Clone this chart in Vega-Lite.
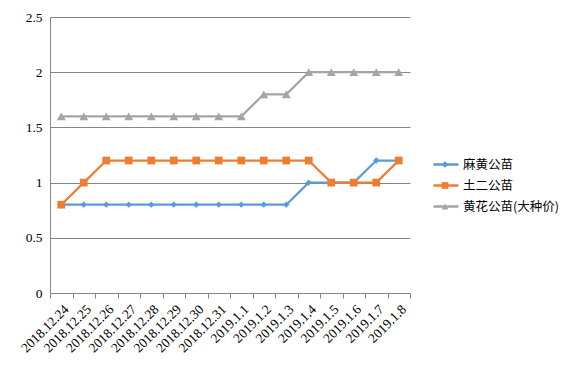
{
  "$schema": "https://vega.github.io/schema/vega-lite/v6.json",
  "autosize": "none",
  "width": 360,
  "height": 276,
  "padding": {"left": 50, "top": 17, "right": 173, "bottom": 77},
  "background": "white",
  "config": {"view": {"stroke": null}},
  "data": {
    "values": [
      {"date": "2018.12.24", "series": "麻黄公苗", "value": 0.8},
      {"date": "2018.12.25", "series": "麻黄公苗", "value": 0.8},
      {"date": "2018.12.26", "series": "麻黄公苗", "value": 0.8},
      {"date": "2018.12.27", "series": "麻黄公苗", "value": 0.8},
      {"date": "2018.12.28", "series": "麻黄公苗", "value": 0.8},
      {"date": "2018.12.29", "series": "麻黄公苗", "value": 0.8},
      {"date": "2018.12.30", "series": "麻黄公苗", "value": 0.8},
      {"date": "2018.12.31", "series": "麻黄公苗", "value": 0.8},
      {"date": "2019.1.1", "series": "麻黄公苗", "value": 0.8},
      {"date": "2019.1.2", "series": "麻黄公苗", "value": 0.8},
      {"date": "2019.1.3", "series": "麻黄公苗", "value": 0.8},
      {"date": "2019.1.4", "series": "麻黄公苗", "value": 1.0},
      {"date": "2019.1.5", "series": "麻黄公苗", "value": 1.0},
      {"date": "2019.1.6", "series": "麻黄公苗", "value": 1.0},
      {"date": "2019.1.7", "series": "麻黄公苗", "value": 1.2},
      {"date": "2019.1.8", "series": "麻黄公苗", "value": 1.2},
      {"date": "2018.12.24", "series": "土二公苗", "value": 0.8},
      {"date": "2018.12.25", "series": "土二公苗", "value": 1.0},
      {"date": "2018.12.26", "series": "土二公苗", "value": 1.2},
      {"date": "2018.12.27", "series": "土二公苗", "value": 1.2},
      {"date": "2018.12.28", "series": "土二公苗", "value": 1.2},
      {"date": "2018.12.29", "series": "土二公苗", "value": 1.2},
      {"date": "2018.12.30", "series": "土二公苗", "value": 1.2},
      {"date": "2018.12.31", "series": "土二公苗", "value": 1.2},
      {"date": "2019.1.1", "series": "土二公苗", "value": 1.2},
      {"date": "2019.1.2", "series": "土二公苗", "value": 1.2},
      {"date": "2019.1.3", "series": "土二公苗", "value": 1.2},
      {"date": "2019.1.4", "series": "土二公苗", "value": 1.2},
      {"date": "2019.1.5", "series": "土二公苗", "value": 1.0},
      {"date": "2019.1.6", "series": "土二公苗", "value": 1.0},
      {"date": "2019.1.7", "series": "土二公苗", "value": 1.0},
      {"date": "2019.1.8", "series": "土二公苗", "value": 1.2},
      {"date": "2018.12.24", "series": "黄花公苗(大种价)", "value": 1.6},
      {"date": "2018.12.25", "series": "黄花公苗(大种价)", "value": 1.6},
      {"date": "2018.12.26", "series": "黄花公苗(大种价)", "value": 1.6},
      {"date": "2018.12.27", "series": "黄花公苗(大种价)", "value": 1.6},
      {"date": "2018.12.28", "series": "黄花公苗(大种价)", "value": 1.6},
      {"date": "2018.12.29", "series": "黄花公苗(大种价)", "value": 1.6},
      {"date": "2018.12.30", "series": "黄花公苗(大种价)", "value": 1.6},
      {"date": "2018.12.31", "series": "黄花公苗(大种价)", "value": 1.6},
      {"date": "2019.1.1", "series": "黄花公苗(大种价)", "value": 1.6},
      {"date": "2019.1.2", "series": "黄花公苗(大种价)", "value": 1.8},
      {"date": "2019.1.3", "series": "黄花公苗(大种价)", "value": 1.8},
      {"date": "2019.1.4", "series": "黄花公苗(大种价)", "value": 2.0},
      {"date": "2019.1.5", "series": "黄花公苗(大种价)", "value": 2.0},
      {"date": "2019.1.6", "series": "黄花公苗(大种价)", "value": 2.0},
      {"date": "2019.1.7", "series": "黄花公苗(大种价)", "value": 2.0},
      {"date": "2019.1.8", "series": "黄花公苗(大种价)", "value": 2.0}
    ]
  },
  "encoding": {
    "x": {
      "field": "date",
      "type": "nominal",
      "sort": null,
      "bandPosition": 0.5,
      "scale": {"type": "band", "paddingInner": 0, "paddingOuter": 0},
      "axis": {
        "title": null,
        "tickBand": "extent",
        "labelAngle": -45,
        "labelAlign": "right",
        "labelBaseline": "top",
        "labelFont": "Liberation Serif",
        "labelFontSize": 13.5,
        "labelColor": "#000000",
        "labelPadding": 4,
        "domainColor": "#868686",
        "tickColor": "#868686",
        "tickSize": 5,
        "grid": false
      }
    },
    "y": {
      "field": "value",
      "type": "quantitative",
      "scale": {"domain": [0, 2.5], "nice": false},
      "axis": {
        "title": null,
        "values": [0, 0.5, 1, 1.5, 2, 2.5],
        "labelExpr": "'' + datum.value",
        "labelFont": "Liberation Serif",
        "labelFontSize": 13.5,
        "labelColor": "#000000",
        "labelPadding": 8,
        "ticks": false,
        "domainColor": "#868686",
        "grid": true,
        "gridColor": "#868686",
        "gridOpacity": 1
      }
    }
  },
  "layer": [
    {
      "mark": {"type": "line", "strokeWidth": 2.25},
      "encoding": {
        "color": {
          "field": "series",
          "type": "nominal",
          "scale": {
            "domain": ["麻黄公苗", "土二公苗", "黄花公苗(大种价)"],
            "range": ["#5B9BD5", "#ED7D31", "#A5A5A5"]
          },
          "legend": {
            "title": null,
            "orient": "none",
            "legendX": 382,
            "legendY": 137,
            "padding": 0,
            "symbolType": "stroke",
            "symbolSize": 625,
            "symbolStrokeWidth": 2.5,
            "clipHeight": 21,
            "rowPadding": 0,
            "labelOffset": 3,
            "labelFont": "Noto Sans CJK SC",
            "labelFontSize": 12.5,
            "labelColor": "#000000"
          }
        }
      }
    },
    {
      "mark": {"type": "point", "filled": true, "opacity": 1, "strokeWidth": 0},
      "encoding": {
        "fill": {
          "field": "series",
          "type": "nominal",
          "sort": null,
          "scale": {"range": ["#5B9BD5", "#ED7D31", "#A5A5A5"]},
          "legend": {
            "title": null,
            "orient": "none",
            "legendX": 390,
            "legendY": 137,
            "padding": 0,
            "clipHeight": 21,
            "rowPadding": 0,
            "symbolSize": 45,
            "symbolOpacity": 1,
            "labelExpr": "''"
          }
        },
        "shape": {
          "field": "series",
          "type": "nominal",
          "sort": null,
          "scale": {"range": ["diamond", "square", "triangle-up"]},
          "legend": {
            "title": null,
            "orient": "none",
            "legendX": 390,
            "legendY": 137,
            "padding": 0,
            "clipHeight": 21,
            "rowPadding": 0,
            "symbolSize": 45,
            "symbolOpacity": 1,
            "labelExpr": "''"
          }
        },
        "size": {
          "field": "series",
          "type": "nominal",
          "scale": {
            "domain": ["麻黄公苗", "土二公苗", "黄花公苗(大种价)"],
            "range": [40, 80, 60]
          },
          "legend": null
        }
      }
    }
  ],
  "resolve": {"legend": {"color": "independent", "shape": "independent", "size": "independent", "fill": "independent"}}
}
